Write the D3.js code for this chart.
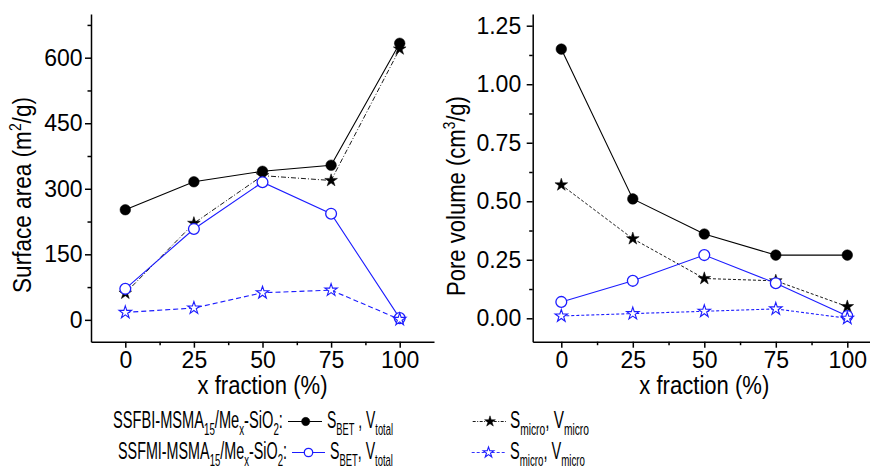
<!DOCTYPE html>
<html>
<head>
<meta charset="utf-8">
<script src="https://cdn.jsdelivr.net/npm/d3@7"></script>
<style>
  html, body { margin: 0; padding: 0; background: #fff; }
  svg { display: block; font-family: "Liberation Sans", Arial, sans-serif; }
</style>
</head>
<body>
<svg id="chart" width="870" height="475"></svg>
<script>
// x fraction of Me (%) for each sample
const xFraction = [0, 25, 50, 75, 100];

// Surface area (m2/g)
const sBetFB   = [252, 316, 340, 354, 633];   // SSFBI  S_BET
const sMicroFB = [61, 221, 330, 319, 620];    // SSFBI  S_micro
const sBetFM   = [71, 208, 315, 243, 4];      // SSFMI  S_BET
const sMicroFM = [17, 27, 62, 68, 1];         // SSFMI  S_micro

// Pore volume (cm3/g)
const vTotalFB = [1.15, 0.51, 0.36, 0.27, 0.27];
const vMicroFB = [0.57, 0.34, 0.17, 0.16, 0.05];
const vTotalFM = [0.07, 0.16, 0.27, 0.15, 0.01];
const vMicroFM = [0.01, 0.02, 0.03, 0.04, 0.00];

// Axis ticks
const xTicks = [0, 25, 50, 75, 100];
const xMinor = [12.5, 37.5, 62.5, 87.5];
const areaTicks = [0, 150, 300, 450, 600];
const areaMinor = [75, 225, 375, 525, 675];
const volTicks = [0, 0.25, 0.5, 0.75, 1.0, 1.25];
const volMinor = [0.125, 0.375, 0.625, 0.875, 1.125];

const BLUE = "#1c1cff";
const svg = d3.select("#chart");

// Squeezes a text element horizontally (in its own frame) to the given length
function squeeze(textSel, length, place) {
  const bb = textSel.node().getBBox();
  const sx = length / bb.width;
  textSel.attr("transform", `${place} scale(${sx},1)`);
}

// Panels
const panels = [
  {
    x: d3.scaleLinear().domain([-12.5, 112.5]).range([91, 434]),
    y: d3.scaleLinear().domain([-50, 700]).range([341.7, 14]),
    yTicks: areaTicks, yMinor: areaMinor, yFmt: d3.format("d"), yPad: 2.5,
    series: [
      { v: sBetFB,   color: "#000", dash: null,        mark: "circle", filled: true },
      { v: sMicroFB, color: "#000", dash: "5,2,1,2",   mark: "star",   filled: true, width: 0.9 },
      { v: sBetFM,   color: BLUE,   dash: null,        mark: "circle", filled: false },
      { v: sMicroFM, color: BLUE,   dash: "5,3",       mark: "star",   filled: false }
    ],
    title: ["Surface area (m", "2", "/g)"], titleX: 31, titleY: 195, titleLen: 196
  },
  {
    x: d3.scaleLinear().domain([-10, 110]).range([532.7, 875.9]),
    y: d3.scaleLinear().domain([-0.1, 1.3]).range([341.7, 14]),
    yTicks: volTicks, yMinor: volMinor, yFmt: d3.format(".2f"), yPad: 5.5,
    series: [
      { v: vTotalFB, color: "#000", dash: null,  mark: "circle", filled: true },
      { v: vMicroFB, color: "#000", dash: "3,2", mark: "star",   filled: true, width: 0.9 },
      { v: vTotalFM, color: BLUE,   dash: null,  mark: "circle", filled: false },
      { v: vMicroFM, color: BLUE,   dash: "3,2", mark: "star",   filled: false }
    ],
    title: ["Pore volume (cm", "3", "/g)"], titleX: 465, titleY: 196, titleLen: 200
  }
];

function drawMarker(g, type, filled, color, cx, cy, scale) {
  const s = scale || 1;
  if (type === "circle") {
    g.append("circle")
      .attr("cx", cx).attr("cy", cy)
      .attr("r", (filled ? 5.3 : 5.4) * s)
      .attr("fill", filled ? color : "#fff")
      .attr("stroke", color)
      .attr("stroke-width", filled ? 0.5 : 1.3);
  } else {
    g.append("path")
      .attr("d", d3.symbol(d3.symbolStar, (filled ? 50 : 48) * s * s)())
      .attr("transform", `translate(${cx},${cy})`)
      .attr("fill", filled ? color : "#fff")
      .attr("stroke", color)
      .attr("stroke-width", filled ? 0.5 : 1.1)
      .attr("stroke-linejoin", "miter");
  }
}

panels.forEach(p => {
  const g = svg.append("g");
  const y0 = p.y.range()[0];
  const x0 = p.x.range()[0];

  // x axis
  g.append("g").attr("transform", `translate(0,${y0})`)
    .call(d3.axisBottom(p.x).tickValues(xTicks).tickSize(6).tickSizeOuter(0).tickPadding(4));
  g.append("g").attr("transform", `translate(0,${y0})`)
    .call(d3.axisBottom(p.x).tickValues(xMinor).tickSize(3.5).tickFormat(""))
    .call(s => s.select(".domain").remove());

  // y axis
  g.append("g").attr("transform", `translate(${x0},0)`)
    .call(d3.axisLeft(p.y).tickValues(p.yTicks).tickFormat(p.yFmt).tickSize(6).tickSizeOuter(0).tickPadding(p.yPad));
  g.append("g").attr("transform", `translate(${x0},0)`)
    .call(d3.axisLeft(p.y).tickValues(p.yMinor).tickSize(3.5).tickFormat(""))
    .call(s => s.select(".domain").remove());

  g.selectAll(".domain, .tick line").attr("stroke", "#000").attr("stroke-width", 1.5);
  g.selectAll(".tick text").attr("font-size", 23).attr("fill", "#000")
    .attr("font-family", '"Liberation Sans", Arial, sans-serif');

  // series lines and markers
  p.series.forEach(s => {
    const line = d3.line().x((d, i) => p.x(xFraction[i])).y(d => p.y(d));
    g.append("path")
      .attr("d", line(s.v))
      .attr("fill", "none")
      .attr("stroke", s.color)
      .attr("stroke-width", s.width || 1.1)
      .attr("stroke-dasharray", s.dash);
    s.v.forEach((d, i) => drawMarker(g, s.mark, s.filled, s.color, p.x(xFraction[i]), p.y(d)));
  });

  // x axis title
  const xt = g.append("text")
    .attr("text-anchor", "middle")
    .attr("font-size", 25)
    .text("x fraction (%)");
  squeeze(xt, 130, `translate(${p.x(50)},394)`);

  // y axis title with superscript
  const t = g.append("text")
    .attr("text-anchor", "middle")
    .attr("font-size", 26);
  t.append("tspan").text(p.title[0]);
  t.append("tspan").attr("font-size", 16).attr("dy", -10).text(p.title[1]);
  t.append("tspan").attr("dy", 10).text(p.title[2]);
  squeeze(t, p.titleLen, `translate(${p.titleX},${p.titleY}) rotate(-90)`);
});

// ---- legend ----
// Writes a run of text/subscript pieces and squeezes it horizontally into [xa, xb]
function legendText(parts, xa, xb, baseline) {
  const g = svg.append("g");
  const t = g.append("text").attr("font-size", 24).attr("x", 0).attr("y", 0);
  let sub = false;
  parts.forEach(([str, isSub]) => {
    const ts = t.append("tspan").text(str);
    if (isSub && !sub) ts.attr("font-size", 16).attr("dy", 7);
    else if (!isSub && sub) ts.attr("dy", -7);
    else if (isSub) ts.attr("font-size", 16);
    sub = isSub;
  });
  const bb = t.node().getBBox();
  const sx = (xb - xa) / bb.width;
  g.attr("transform", `translate(${xa - bb.x * sx},${baseline}) scale(${sx},1)`);
}

const rows = [
  { base: 428, name: "SSFBI-MSMA", nameX: [113, 283], color: "#000", filled: true,
    betX: [327, 393], betParts: [["S", false], ["BET", true], [" , V", false], ["total", true]],
    solid: [288, 322, 305.7], dashed: [472.7, 506, 490], dash: "3,1.5,1,1.5", microEnd: 589 },
  { base: 459, name: "SSFMI-MSMA", nameX: [118, 287], color: BLUE, filled: false,
    betX: [330, 393], betParts: [["S", false], ["BET", true], [", V", false], ["total", true]],
    solid: [292, 325, 308.5], dashed: [471.7, 506.7, 488.5], dash: "3,2", microEnd: 585 }
];

rows.forEach(r => {
  legendText([[r.name, false], ["15", true], ["/Me", false], ["x", true], ["-SiO", false], ["2", true], [":", false]],
    r.nameX[0], r.nameX[1], r.base);
  const cy = r.base - 6.5;
  const lg = svg.append("g");
  lg.append("line").attr("x1", r.solid[0]).attr("x2", r.solid[1]).attr("y1", cy).attr("y2", cy)
    .attr("stroke", r.color).attr("stroke-width", 1.1);
  drawMarker(lg, "circle", r.filled, r.color, r.solid[2], cy, 0.78);
  legendText(r.betParts, r.betX[0], r.betX[1], r.base);

  lg.append("line").attr("x1", r.dashed[0]).attr("x2", r.dashed[1]).attr("y1", cy).attr("y2", cy)
    .attr("stroke", r.color).attr("stroke-width", 0.9).attr("stroke-dasharray", r.dash);
  drawMarker(lg, "star", r.filled, r.color, r.dashed[2], cy, 0.85);
  legendText([["S", false], ["micro", true], [", V", false], ["micro", true]], 510, r.microEnd, r.base);
});
</script>
</body>
</html>
